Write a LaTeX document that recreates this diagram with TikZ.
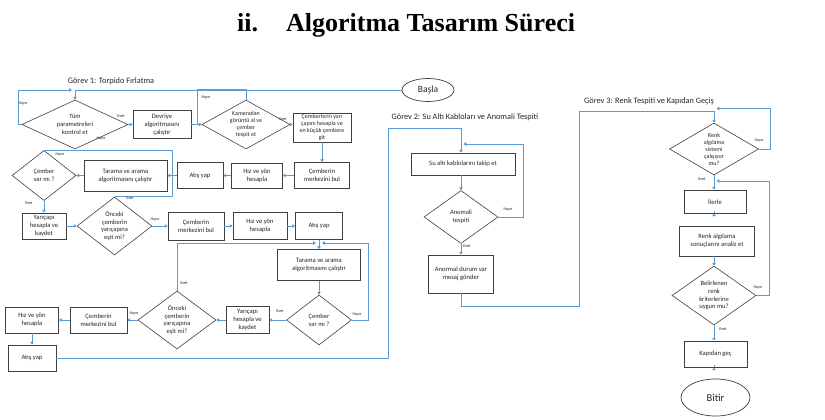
\documentclass[tikz,border=0pt]{standalone}
\usepackage{fontspec}
\setmainfont{Carlito}
\newfontfamily\ttlfont{Liberation Serif}
\usetikzlibrary{shapes.geometric,arrows.meta}
\definecolor{conc}{HTML}{5B9BD5}
\definecolor{boxc}{HTML}{404040}
\definecolor{txtc}{HTML}{262626}
\newcommand{\fsz}[2]{\fontsize{#1}{#2}\selectfont}
\begin{document}
\begin{tikzpicture}[x=1pt,y=-1pt,
 box/.style={draw=boxc, line width=0.75pt, fill=white, inner sep=0.5pt, align=center, font=\fsz{6.6}{8}, text=txtc},
 dia/.style={diamond, draw=boxc, line width=0.6pt, inner sep=0pt, fill=white},
 dtxt/.style={align=center, inner sep=0pt, font=\fsz{6.5}{7.8}, text=txtc},
 conn/.style={draw=conc, line width=0.9pt},
 arr/.style={conn, -{Triangle[width=3.4pt,length=2.8pt]}},
 lab/.style={font=\fsz{4.2}{4.2}, inner sep=0pt, text=txtc},
 grv/.style={font=\fsz{8.3}{10}, inner sep=0pt, text=txtc},
 oval/.style={ellipse, draw=boxc, line width=0.7pt, inner sep=0pt, fill=white, text=txtc}]
\useasboundingbox[fill=white] (0,0) rectangle (825,420);

% title
\node[anchor=base west, inner sep=0pt, font=\ttlfont\bfseries\fsz{26}{30}] (ttl) at (237,32) {ii.\hspace{28pt}Algoritma Tasarım Süreci};

% section labels
\node[grv] (g1) at (111,81) {Görev 1: Torpido Fırlatma};
\node[grv] (g2) at (465,117) {Görev 2: Su Altı Kabloları ve Anomali Tespiti};
\node[grv] (g3) at (649,101) {Görev 3: Renk Tespiti ve Kapıdan Geçiş};

% start
\node[oval, minimum width=52pt, minimum height=23pt, font=\fsz{9.5}{11}] (start) at (428,90) {Başla};

% row 1
\node[dia, minimum width=106pt, minimum height=49pt] (d1) at (75,124.5) {};
\node[dtxt] (t1) at (d1) {Tüm\\parametreleri\\kontrol et};
\node[box, minimum width=58pt, minimum height=28pt] (bdev) at (162,124.5) {Devriye\\algoritmasını\\çalıştır};
\node[dia, minimum width=88pt, minimum height=49pt] (d2) at (246,124.5) {};
\node[dtxt, font=\fsz{6}{7}] (t2) at (d2) {Kameradan\\görüntü al ve\\çember\\tespit et};
\node[box, minimum width=58pt, minimum height=29pt, font=\fsz{6}{7}] (bcy) at (322,127.5) {Çemberlerin yarı\\çapını hesapla ve\\en küçük çembere\\git};

% row 2
\node[dia, minimum width=64pt, minimum height=50pt] (d3) at (44,175.5) {};
\node[dtxt] (t3) at (d3) {Çember\\var mı ?};
\node[box, minimum width=83pt, minimum height=31pt] (btr1) at (125.5,175.5) {Tarama ve arama\\algoritmasını çalıştır};
\node[box, minimum width=46pt, minimum height=26pt] (bat1) at (200,175.5) {Atış yap};
\node[box, minimum width=51pt, minimum height=25pt] (bhz1) at (257,175.5) {Hız ve yön\\hesapla};
\node[box, minimum width=55pt, minimum height=26pt] (bcm1) at (322,175.5) {Çemberin\\merkezini bul};

% row 3
\node[box, minimum width=44pt, minimum height=26pt] (byr1) at (44,226) {Yarıçapı\\hesapla ve\\kaydet};
\node[dia, minimum width=75pt, minimum height=58pt] (d4) at (114.5,226) {};
\node[dtxt] (t4) at (d4) {Önceki\\çemberin\\yarıçapına\\eşit mi?};
\node[box, minimum width=56pt, minimum height=28pt] (bcm2) at (196,226) {Çemberin\\merkezini bul};
\node[box, minimum width=54pt, minimum height=27pt] (bhz2) at (260,226) {Hız ve yön\\hesapla};
\node[box, minimum width=47pt, minimum height=27pt] (bat2) at (319,226) {Atış yap};

% row 4
\node[box, minimum width=83pt, minimum height=31pt] (btr2) at (319,265) {Tarama ve arama\\algoritmasını çalıştır};
\node[dia, minimum width=65pt, minimum height=50pt] (d5) at (319,320) {};
\node[dtxt] (t5) at (d5) {Çember\\var mı ?};
\node[box, minimum width=43pt, minimum height=27pt] (byr2) at (247.5,320) {Yarıçapı\\hesapla ve\\kaydet};
\node[dia, minimum width=78pt, minimum height=58pt] (d6) at (177,320) {};
\node[dtxt] (t6) at (d6) {Önceki\\çemberin\\yarıçapına\\eşit mi?};
\node[box, minimum width=57pt, minimum height=26pt] (bcm3) at (98.5,320) {Çemberin\\merkezini bul};
\node[box, minimum width=53pt, minimum height=26pt] (bhz3) at (32,320) {Hız ve yön\\hesapla};
\node[box, minimum width=48pt, minimum height=26pt] (bat3) at (32,358) {Atış yap};

% Görev 2
\node[box, minimum width=104pt, minimum height=22pt] (bsu) at (463,164) {Su altı kablolarını takip et};
\node[dia, minimum width=74pt, minimum height=53pt] (d7) at (461,217) {};
\node[dtxt] (t7) at (d7) {Anomali\\tespiti};
\node[box, minimum width=65pt, minimum height=38pt] (ban) at (461,274) {Anormal durum var\\mesaj gönder};

% Görev 3
\node[dia, minimum width=89pt, minimum height=52pt] (d8) at (714,149) {};
\node[dtxt, font=\fsz{6}{7}] (t8) at (d8) {Renk\\algılama\\sistemi\\çalışıyor\\mu?};
\node[box, minimum width=62pt, minimum height=23pt] (bil) at (715,201.5) {İlerle};
\node[box, minimum width=75pt, minimum height=30pt] (bra) at (717,241) {Renk algılama\\sonuçlarını analiz et};
\node[dia, minimum width=84pt, minimum height=59pt] (d9) at (714,295.5) {};
\node[dtxt] (t9) at (d9) {Belirlenen\\renk\\kriterlerine\\uygun mu?};
\node[box, minimum width=63pt, minimum height=26pt] (bkg) at (715.5,354) {Kapıdan geç};
\node[oval, minimum width=69pt, minimum height=37pt, font=\fsz{10.5}{12}] (end) at (715.5,397.5) {Bitir};

% coordinates
\coordinate (j0) at (18,90);
\coordinate (j0b) at (72,90);
\coordinate (j1) at (197,89);
\coordinate (j2) at (172,175.5);
\coordinate (j4a) at (316,243);
\coordinate (j5) at (368,243);
\coordinate (j5b) at (322,243);
\coordinate (k1) at (388,358);
\coordinate (k2) at (388,128);
\coordinate (k3) at (461,128);
\coordinate (k4) at (523,144);
\coordinate (k5) at (463.5,144);
\coordinate (m1) at (461,306);
\coordinate (m2) at (579,306);
\coordinate (m3) at (579,111);
\coordinate (m4) at (714,111);
\coordinate (m5) at (770,108.5);
\coordinate (m6) at (716.5,108.5);
\coordinate (m7) at (769,181);
\coordinate (m8) at (716.5,181);

% connectors Görev 1
\draw[arr] (d1.west) -| (j0) -- (j0b);
\draw[arr] (start.west) -- (start.west -| d1.north) -- (d1.north);
\draw[arr] (d1.east) -- (bdev.west);
\draw[arr] (bdev.east) -- (d2.west);
\draw[conn] (d2.north) |- (j1) -- (j1 |- d2.west);
\draw[arr] (d2.east) -- (d2.east -| bcy.west);
\draw[arr] (bcy.south) -- (bcm1.north);
\draw[arr] (bcm1.west) -- (bhz1.east);
\draw[arr] (bhz1.west) -- (bat1.east);
\draw[arr] (bat1.west) -- (btr1.east);
\draw[conn] (d3.north) -- (d3.north -| j2) -- (j2);
\draw[conn] (d4.north) -- (d4.north -| j2) -- (j2);
\draw[arr] (btr1.west) -- (d3.east);
\draw[arr] (d3.south) -- (byr1.north);
\draw[arr] (byr1.east) -- (d4.west);
\draw[arr] (d4.east) -- (bcm2.west);
\draw[arr] (bcm2.east) -- (bhz2.west);
\draw[arr] (bhz2.east) -- (bat2.west);
\draw[arr] (bat2.south) -- (btr2.north);
\draw[arr] (d6.north) |- (j4a);
\draw[arr] (d5.east) -| (j5) -- (j5b);
\draw[arr] (btr2.south) -- (d5.north);
\draw[arr] (d5.west) -- (byr2.east);
\draw[arr] (byr2.west) -- (d6.east);
\draw[arr] (d6.west) -- (bcm3.east);
\draw[arr] (bcm3.west) -- (bhz3.east);
\draw[arr] (bhz3.south) -- (bat3.north);
% to Görev 2
\draw[arr] (bat3.east) -- (k1) -- (k2) -- (k3) -- (k3 |- bsu.north);
\draw[arr] (d7.east) -| (k4) -- (k5);
\draw[arr] (bsu.south -| d7.north) -- (d7.north);
\draw[arr] (d7.south) -- (ban.north);
% to Görev 3
\draw[arr] (ban.south) -- (m1) -- (m2) -- (m3) -- (m4) -- (d8.north);
\draw[arr] (d8.east) -| (m5) -- (m6);
\draw[arr] (d9.east) -| (m7) -- (m8);
\draw[arr] (d8.south) -- (d8.south |- bil.north);
\draw[arr] (bil.south -| d8.south) -- (bil.south -| d8.south |- bra.north);
\draw[arr] (bra.south -| d9.north) -- (d9.north);
\draw[arr] (d9.south) -- (d9.south |- bkg.north);
\draw[arr] (bkg.south -| d9.south) -- (bkg.south -| d9.south |- end.north);

% labels
\node[lab] (l1) at (23,103) {Hayır};
\node[lab] (l2) at (101,138) {Hayır};
\node[lab] (l3) at (121,116) {Evet};
\node[lab] (l4) at (206,97) {Hayır};
\node[lab] (l5) at (283,119) {Evet};
\node[lab] (l6) at (60,154) {Hayır};
\node[lab] (l7) at (29,203) {Evet};
\node[lab] (l8) at (130,198) {Evet};
\node[lab] (l9) at (155,219) {Hayır};
\node[lab] (l10) at (184,283) {Evet};
\node[lab] (l11) at (134,313) {Hayır};
\node[lab] (l12) at (280,311) {Evet};
\node[lab] (l13) at (357,314) {Hayır};
\node[lab] (l14) at (508,209) {Hayır};
\node[lab] (l15) at (467,246) {Evet};
\node[lab] (l16) at (759,140) {Hayır};
\node[lab] (l17) at (702,179) {Evet};
\node[lab] (l18) at (758,287) {Hayır};
\node[lab] (l19) at (723,329) {Evet};
\end{tikzpicture}
\end{document}
